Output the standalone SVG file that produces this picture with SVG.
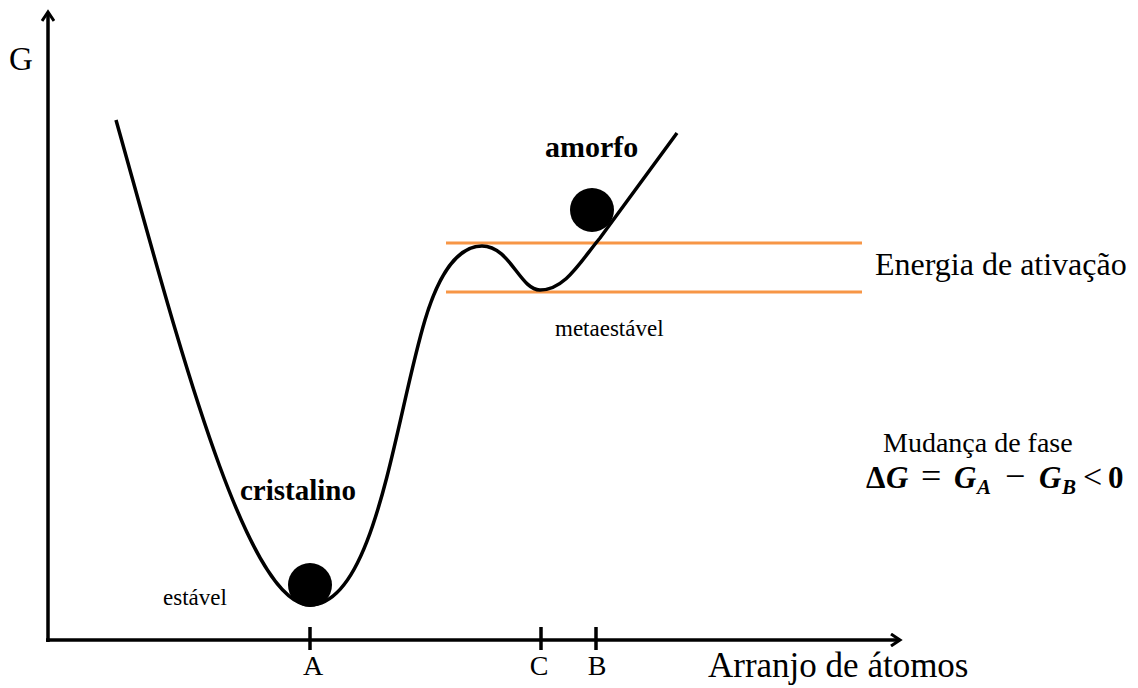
<svg xmlns="http://www.w3.org/2000/svg" width="1138" height="688" viewBox="0 0 1138 688">
<defs>
<style>
.t{font-family:"Liberation Serif","Times New Roman",serif;fill:#000}
.b{font-weight:bold}
.bi{font-weight:bold;font-style:italic}
.ax{stroke:#000;stroke-width:3.5;fill:none}
.or{stroke:#F79646;stroke-width:3}
</style>
<marker id="ah" viewBox="0 0 14 14" refX="11" refY="7" markerWidth="14" markerHeight="14" markerUnits="userSpaceOnUse" orient="auto">
<path d="M2,1 L11,7 L2,13" fill="none" stroke="#000" stroke-width="3"/>
</marker>
</defs>
<rect width="1138" height="688" fill="#fff"/>
<g id="axes">
<line class="ax" x1="48" y1="642" x2="48" y2="12" marker-end="url(#ah)"/>
<line class="ax" x1="46" y1="640" x2="900" y2="640" marker-end="url(#ah)"/>
<line class="ax" x1="310" y1="627" x2="310" y2="650"/>
<line class="ax" x1="541" y1="627" x2="541" y2="650"/>
<line class="ax" x1="596" y1="627" x2="596" y2="650"/>
<text class="t" x="9" y="70" font-size="33">G</text>
<text class="t" x="313" y="675" font-size="28" text-anchor="middle">A</text>
<text class="t" x="539" y="675" font-size="28" text-anchor="middle">C</text>
<text class="t" x="597" y="675" font-size="28" text-anchor="middle">B</text>
<text class="t" x="708" y="677" font-size="35">Arranjo de átomos</text>
</g>
<g id="levels">
<line class="or" x1="446" y1="243" x2="862" y2="243"/>
<line class="or" x1="446" y1="292" x2="862" y2="292"/>
<text class="t" x="875" y="275" font-size="32">Energia de ativação</text>
</g>
<g id="curve">
<path d="M116,120 C175,330 245,605 310,605 C375,605 395,420 425,320 C440,270 460,246 482,246 C510,246 520,290 540,290 C565,290 580,262 600,238 L677,133" fill="none" stroke="#000" stroke-width="3.5"/>
</g>
<g id="cristalino">
<circle cx="310" cy="585" r="22" fill="#000"/>
<text class="t b" x="240" y="500" font-size="29">cristalino</text>
<text class="t" x="163" y="605" font-size="23">estável</text>
</g>
<g id="amorfo">
<circle cx="592" cy="210" r="22" fill="#000"/>
<text class="t b" x="545" y="157" font-size="30">amorfo</text>
<text class="t" x="555" y="336" font-size="23">metaestável</text>
</g>
<g id="fase">
<text class="t" x="883" y="452" font-size="28">Mudança de fase</text>
<text class="t" y="488" font-size="31"><tspan x="866" font-weight="bold">Δ</tspan><tspan class="bi" x="886">G</tspan><tspan x="921" font-size="36">=</tspan><tspan class="bi" x="954">G</tspan><tspan class="bi" x="977" font-size="21" dy="6">A</tspan><tspan x="1005" dy="-6" font-size="36">−</tspan><tspan class="bi" x="1039">G</tspan><tspan class="bi" x="1062" font-size="21" dy="6">B</tspan><tspan x="1083" dy="-6" font-size="34">&lt;</tspan><tspan x="1108" font-weight="bold">0</tspan></text>
</g>
</svg>
